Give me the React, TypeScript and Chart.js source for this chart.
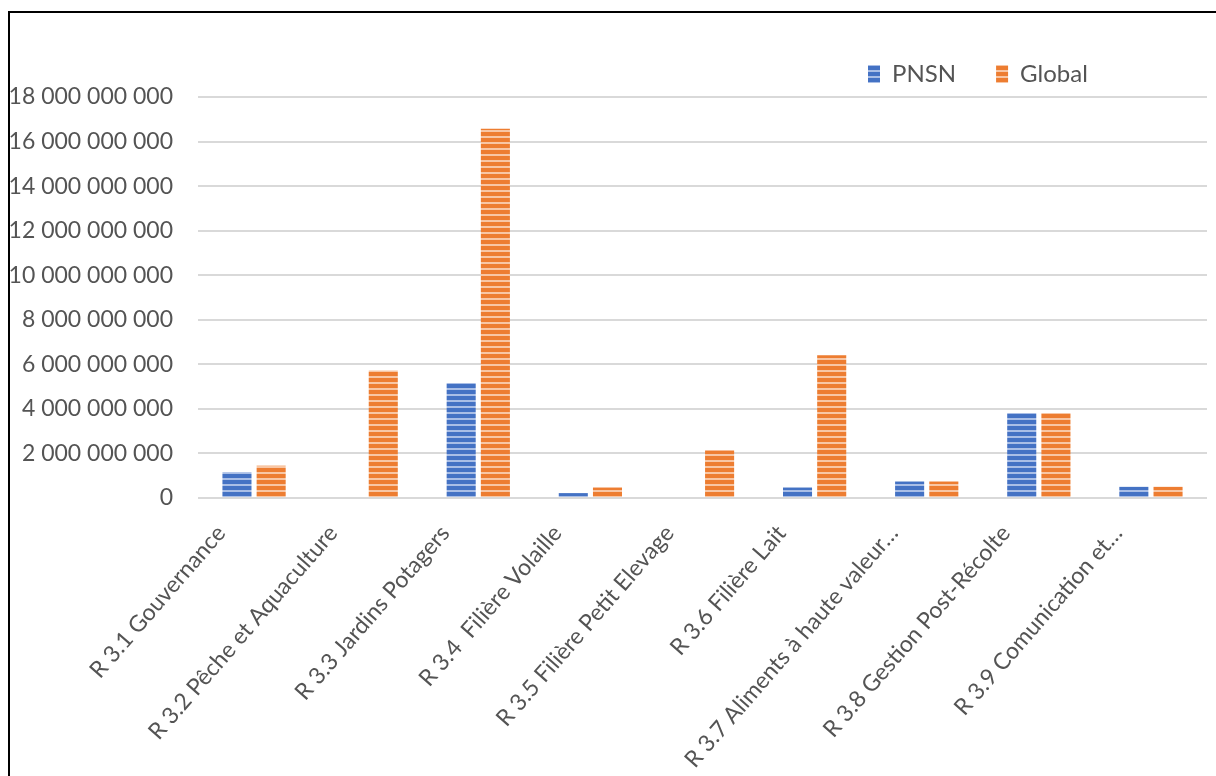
import React, { useEffect, useRef } from "react";
import { Chart, registerables } from "chart.js";

Chart.register(...registerables);

const categories: string[] = [
  "R 3.1 Gouvernance",
  "R 3.2 Pêche et Aquaculture",
  "R 3.3 Jardins Potagers",
  "R 3.4  Filière Volaille",
  "R 3.5 Filière Petit Elevage",
  "R 3.6 Filière Lait",
  "R 3.7 Aliments à haute valeur…",
  "R 3.8 Gestion Post-Récolte",
  "R 3.9 Comunication et…",
];

const pnsnValues: number[] = [
  1160000000, 0, 5160000000, 220000000, 0, 470000000, 740000000, 3820000000, 500000000,
];

const globalValues: number[] = [
  1450000000, 5720000000, 16580000000, 470000000, 2130000000, 6410000000, 740000000,
  3820000000, 500000000,
];

const seriesNames: string[] = ["PNSN", "Global"];

const Y_MAX = 18000000000;
const Y_STEP = 2000000000;

const FONT = "Lato, 'Open Sans', sans-serif";
const TEXT_COLOR = "#545454";
const LEGEND_SIZE = 24;

function stripePattern(base: string, light: string): CanvasPattern | string {
  const c = document.createElement("canvas");
  c.width = 8;
  c.height = 6;
  const ctx = c.getContext("2d");
  if (!ctx) return base;
  ctx.fillStyle = base;
  ctx.fillRect(0, 0, 8, 6);
  ctx.fillStyle = light;
  ctx.fillRect(0, 4, 8, 2);
  return ctx.createPattern(c, "repeat") || base;
}

function formatTick(v: number): string {
  return String(Math.round(v)).replace(/\B(?=(\d{3})+(?!\d))/g, " ");
}

const legendTweak = {
  id: "legendTweak",
  beforeUpdate(chart: any) {
    const lg = chart.legend;
    if (lg && !lg.__patched) {
      lg.__patched = true;
      const origFit = lg.fit.bind(lg);
      lg.fit = function () {
        origFit();
        this.height = 0;
      };
    }
  },
  afterLayout(chart: any) {
    const lg = chart.legend;
    if (!lg) return;
    const pad = lg.options.labels.padding;
    const lw = lg.lineWidths && lg.lineWidths.length ? lg.lineWidths[0] : 0;
    lg.left = 858 - pad;
    lg.right = 868 + lw;
    lg.width = lg.right - lg.left;
    lg.top = 74 - LEGEND_SIZE / 2 - pad;
    lg.bottom = lg.top + LEGEND_SIZE + pad * 2;
    lg.height = lg.bottom - lg.top;
  },
};

export default function App() {
  const canvasRef = useRef<HTMLCanvasElement | null>(null);

  useEffect(() => {
    document.documentElement.style.overflow = "hidden";
    document.body.style.overflow = "hidden";
    const canvas = canvasRef.current;
    if (!canvas) return;
    const bluePat = stripePattern("#4472C4", "#A9BEE6");
    const orangePat = stripePattern("#ED7D31", "#F8C6A4");

    const chart = new Chart(canvas, {
      type: "bar",
      data: {
        labels: categories,
        datasets: [
          {
            label: seriesNames[0],
            data: pnsnValues,
            backgroundColor: bluePat as any,
            borderWidth: 0,
            categoryPercentage: 0.61,
            barPercentage: 0.85,
          },
          {
            label: seriesNames[1],
            data: globalValues,
            backgroundColor: orangePat as any,
            borderWidth: 0,
            categoryPercentage: 0.61,
            barPercentage: 0.85,
          },
        ],
      },
      options: {
        responsive: false,
        animation: false,
        devicePixelRatio: 1,
        layout: { padding: { top: 97, left: 10, right: 9, bottom: 0 } },
        plugins: {
          legend: {
            display: true,
            position: "top",
            align: "end",
            labels: {
              boxWidth: 12,
              boxHeight: 18,
              padding: 40,
              color: TEXT_COLOR,
              font: { family: FONT, size: LEGEND_SIZE },
            },
          },
          tooltip: { enabled: false },
        },
        scales: {
          x: {
            grid: { display: false, drawTicks: false },
            border: { display: false },
            afterFit(scale: any) {
              scale.height = 278;
            },
            ticks: {
              autoSkip: false,
              minRotation: 49,
              maxRotation: 49,
              padding: 22,
              labelOffset: -33,
              color: TEXT_COLOR,
              font: { family: FONT, size: 23 },
            },
          },
          y: {
            min: 0,
            max: Y_MAX,
            afterFit(scale: any) {
              scale.width = 188;
            },
            grid: { color: "#D9D9D9", lineWidth: 2, drawTicks: false },
            border: { display: false },
            ticks: {
              stepSize: Y_STEP,
              padding: 25,
              color: TEXT_COLOR,
              font: { family: FONT, size: 23 },
              callback: (v: any) => formatTick(Number(v)),
            },
          },
        },
      },
      plugins: [legendTweak as any],
    });
    return () => chart.destroy();
  }, []);

  return (
    <div>
      <div
        style={{
          position: "fixed",
          left: 8,
          top: 11,
          width: 1400,
          height: 1000,
          borderLeft: "2px solid #000",
          borderTop: "2px solid #000",
          boxSizing: "border-box",
        }}
      />
      <canvas
        ref={canvasRef}
        width={1216}
        height={776}
        style={{ position: "fixed", left: 0, top: 0, width: 1216, height: 776 }}
      />
    </div>
  );
}
